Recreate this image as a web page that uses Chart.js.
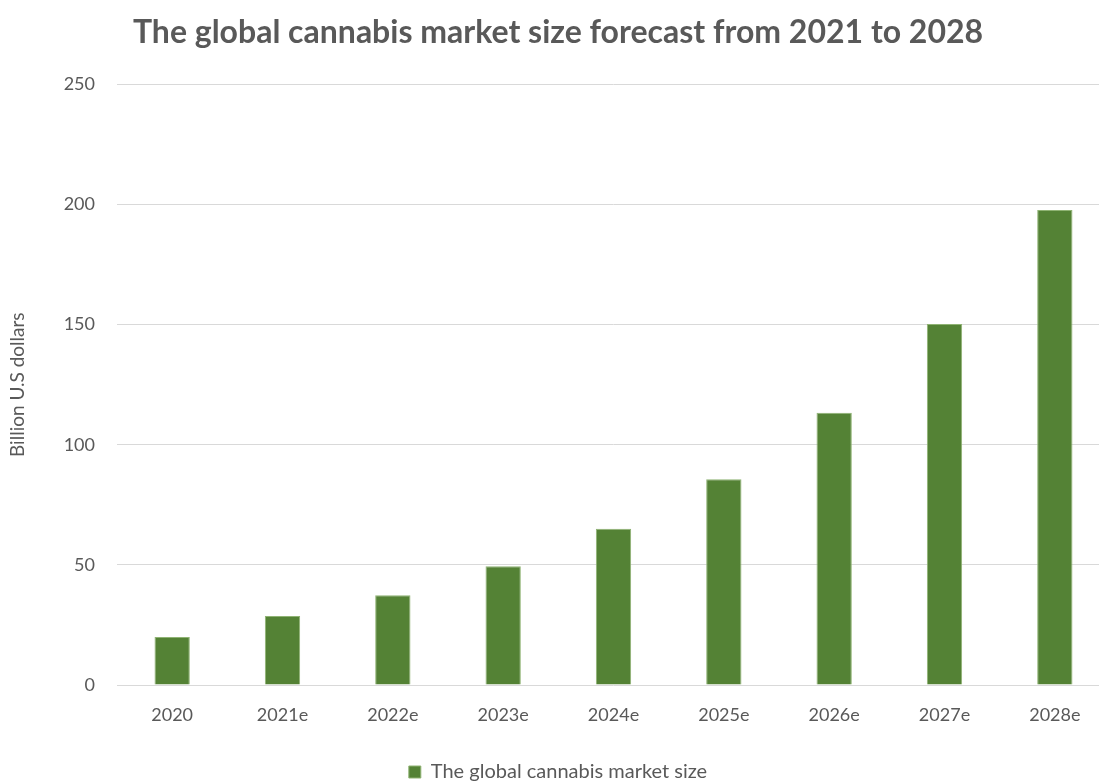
<!DOCTYPE html>
<html>
<head>
<meta charset="utf-8">
<script src="https://cdn.jsdelivr.net/npm/chart.js@4"></script>
<style>
  html, body { margin: 0; padding: 0; background: #fff; overflow: hidden; }
  #wrap { width: 1110px; height: 783px; }
</style>
</head>
<body>
<div id="wrap"><canvas id="marketChart"></canvas></div>
<script>
// datos
const years = ['2020', '2021e', '2022e', '2023e', '2024e', '2025e', '2026e', '2027e', '2028e'];
const marketSize = [20, 28.7, 37.4, 49.4, 65, 85.6, 113.3, 150.3, 197.7];
const yTicks = [0, 50, 100, 150, 200, 250];

const grey = '#595959';

document.addEventListener('DOMContentLoaded', function() {
    const ctx = document.getElementById('marketChart').getContext('2d');
    new Chart(ctx, {
        type: 'bar',
        data: {
            labels: years,
            datasets: [{
                label: 'The global cannabis market size',
                data: marketSize,
                backgroundColor: '#548235',
                borderColor: '#8fb373',
                borderWidth: 1,
                categoryPercentage: 1,
                barPercentage: 0.32
            }]
        },
        options: {
            responsive: true,
            maintainAspectRatio: false,
            animation: false,
            layout: { padding: { left: 6, right: 0, top: 13, bottom: -9 } },
            plugins: {
                title: {
                    display: true,
                    text: 'The global cannabis market size forecast from 2021 to 2028',
                    color: grey,
                    font: { family: 'Lato', size: 32, weight: 'bold' },
                    padding: { top: 0, bottom: 33 }
                },
                legend: {
                    position: 'bottom',
                    labels: {
                        color: grey,
                        font: { family: 'Lato', size: 20 },
                        boxWidth: 12,
                        boxHeight: 12,
                        padding: 2
                    }
                },
                tooltip: { enabled: false }
            },
            scales: {
                x: {
                    grid: { display: false },
                    border: { display: false },
                    ticks: { color: grey, font: { family: 'Lato', size: 18 }, padding: 11 },
                    afterFit: function(axis) { axis.height = 75; }
                },
                y: {
                    min: 0,
                    max: 250,
                    afterBuildTicks: function(axis) {
                        axis.ticks = yTicks.map(v => ({ value: v }));
                    },
                    grid: { color: '#d9d9d9', drawTicks: false },
                    border: { display: false },
                    ticks: { color: grey, font: { family: 'Lato', size: 18 }, padding: 22 },
                    title: {
                        display: true,
                        text: 'Billion U.S dollars',
                        color: grey,
                        font: { family: 'Lato', size: 19 },
                        padding: { top: 0, bottom: 0 }
                    },
                    afterFit: function(axis) { axis.width = 111; }
                }
            }
        }
    });
});
</script>
</body>
</html>
